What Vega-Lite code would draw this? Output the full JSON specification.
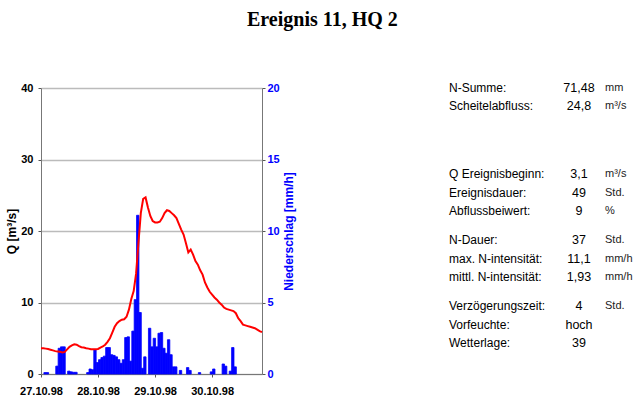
{
  "$schema": "https://vega.github.io/schema/vega-lite/v6.json",
  "background": "white",
  "padding": {"left": 5, "top": 10, "right": 5, "bottom": 5},
  "title": {"text": "Ereignis 11, HQ 2", "font": "Liberation Serif", "fontSize": 20, "fontWeight": "bold", "color": "black", "anchor": "middle", "offset": 52},
  "config": {
    "view": {"stroke": null},
    "font": "Liberation Sans",
    "axis": {"domainColor": "#777777", "tickColor": "#555555", "tickSize": 3, "labelFont": "Liberation Sans", "labelFontSize": 11, "labelFontWeight": "bold", "labelColor": "black", "titleFont": "Liberation Sans", "titleFontSize": 12, "titleFontWeight": "bold", "titleColor": "black"}
  },
  "datasets": {
    "abfluss": [
      {"t": "1998-10-27T00:00", "Q": 3.6}, {"t": "1998-10-27T01:00", "Q": 3.6}, {"t": "1998-10-27T02:00", "Q": 3.55}, {"t": "1998-10-27T03:00", "Q": 3.5},
      {"t": "1998-10-27T04:00", "Q": 3.4}, {"t": "1998-10-27T05:00", "Q": 3.3}, {"t": "1998-10-27T06:00", "Q": 3.2}, {"t": "1998-10-27T07:00", "Q": 3.15},
      {"t": "1998-10-27T08:00", "Q": 3.1}, {"t": "1998-10-27T09:00", "Q": 3.0}, {"t": "1998-10-27T10:00", "Q": 3.1}, {"t": "1998-10-27T11:00", "Q": 3.45},
      {"t": "1998-10-27T12:00", "Q": 3.8}, {"t": "1998-10-27T13:00", "Q": 4.0}, {"t": "1998-10-27T14:00", "Q": 4.15}, {"t": "1998-10-27T15:00", "Q": 4.1},
      {"t": "1998-10-27T16:00", "Q": 3.9}, {"t": "1998-10-27T17:00", "Q": 3.75}, {"t": "1998-10-27T18:00", "Q": 3.7}, {"t": "1998-10-27T19:00", "Q": 3.6},
      {"t": "1998-10-27T20:00", "Q": 3.55}, {"t": "1998-10-27T21:00", "Q": 3.45}, {"t": "1998-10-27T22:00", "Q": 3.45}, {"t": "1998-10-27T23:00", "Q": 3.45},
      {"t": "1998-10-28T00:00", "Q": 3.5}, {"t": "1998-10-28T01:00", "Q": 3.7}, {"t": "1998-10-28T02:00", "Q": 3.85}, {"t": "1998-10-28T03:00", "Q": 4.1},
      {"t": "1998-10-28T04:00", "Q": 4.5}, {"t": "1998-10-28T05:00", "Q": 5.0}, {"t": "1998-10-28T06:00", "Q": 5.8}, {"t": "1998-10-28T07:00", "Q": 6.6},
      {"t": "1998-10-28T08:00", "Q": 7.1}, {"t": "1998-10-28T09:00", "Q": 7.4}, {"t": "1998-10-28T10:00", "Q": 7.6}, {"t": "1998-10-28T11:00", "Q": 7.65},
      {"t": "1998-10-28T12:00", "Q": 8.0}, {"t": "1998-10-28T13:00", "Q": 9.0}, {"t": "1998-10-28T14:00", "Q": 10.5}, {"t": "1998-10-28T15:00", "Q": 11.6},
      {"t": "1998-10-28T16:00", "Q": 14.0}, {"t": "1998-10-28T17:00", "Q": 18.3}, {"t": "1998-10-28T18:00", "Q": 22.5}, {"t": "1998-10-28T19:00", "Q": 24.5},
      {"t": "1998-10-28T20:00", "Q": 24.7}, {"t": "1998-10-28T21:00", "Q": 23.3}, {"t": "1998-10-28T22:00", "Q": 22.1}, {"t": "1998-10-28T23:00", "Q": 21.4},
      {"t": "1998-10-29T00:00", "Q": 21.2}, {"t": "1998-10-29T01:00", "Q": 21.2}, {"t": "1998-10-29T02:00", "Q": 21.3}, {"t": "1998-10-29T03:00", "Q": 21.8},
      {"t": "1998-10-29T04:00", "Q": 22.5}, {"t": "1998-10-29T05:00", "Q": 22.9}, {"t": "1998-10-29T06:00", "Q": 22.8}, {"t": "1998-10-29T07:00", "Q": 22.5},
      {"t": "1998-10-29T08:00", "Q": 22.2}, {"t": "1998-10-29T09:00", "Q": 21.8}, {"t": "1998-10-29T10:00", "Q": 21.0}, {"t": "1998-10-29T11:00", "Q": 20.2},
      {"t": "1998-10-29T12:00", "Q": 19.5}, {"t": "1998-10-29T13:00", "Q": 18.3}, {"t": "1998-10-29T14:00", "Q": 17.0}, {"t": "1998-10-29T15:00", "Q": 17.4},
      {"t": "1998-10-29T16:00", "Q": 16.7}, {"t": "1998-10-29T17:00", "Q": 15.8}, {"t": "1998-10-29T18:00", "Q": 15.3}, {"t": "1998-10-29T19:00", "Q": 14.5},
      {"t": "1998-10-29T20:00", "Q": 13.9}, {"t": "1998-10-29T21:00", "Q": 12.8}, {"t": "1998-10-29T22:00", "Q": 12.1}, {"t": "1998-10-29T23:00", "Q": 11.5},
      {"t": "1998-10-30T00:00", "Q": 11.1}, {"t": "1998-10-30T01:00", "Q": 10.7}, {"t": "1998-10-30T02:00", "Q": 10.4}, {"t": "1998-10-30T03:00", "Q": 10.0},
      {"t": "1998-10-30T04:00", "Q": 9.7}, {"t": "1998-10-30T05:00", "Q": 9.3}, {"t": "1998-10-30T06:00", "Q": 9.1}, {"t": "1998-10-30T07:00", "Q": 9.0},
      {"t": "1998-10-30T08:00", "Q": 8.9}, {"t": "1998-10-30T09:00", "Q": 8.8}, {"t": "1998-10-30T10:00", "Q": 8.5}, {"t": "1998-10-30T11:00", "Q": 7.8},
      {"t": "1998-10-30T12:00", "Q": 7.4}, {"t": "1998-10-30T13:00", "Q": 6.9}, {"t": "1998-10-30T14:00", "Q": 6.8}, {"t": "1998-10-30T15:00", "Q": 6.7},
      {"t": "1998-10-30T16:00", "Q": 6.6}, {"t": "1998-10-30T17:00", "Q": 6.5}, {"t": "1998-10-30T18:00", "Q": 6.4}, {"t": "1998-10-30T19:00", "Q": 6.2},
      {"t": "1998-10-30T20:00", "Q": 6.0}, {"t": "1998-10-30T21:00", "Q": 5.85}
    ],
    "niederschlag": [
      {"t": "1998-10-27T01:00", "N": 0.1}, {"t": "1998-10-27T02:00", "N": 0.1}, {"t": "1998-10-27T06:00", "N": 0.55}, {"t": "1998-10-27T07:00", "N": 1.8},
      {"t": "1998-10-27T08:00", "N": 1.9}, {"t": "1998-10-27T09:00", "N": 1.9}, {"t": "1998-10-27T11:00", "N": 0.2}, {"t": "1998-10-27T12:00", "N": 0.15},
      {"t": "1998-10-27T13:00", "N": 0.12}, {"t": "1998-10-27T14:00", "N": 0.12}, {"t": "1998-10-27T19:00", "N": 0.1}, {"t": "1998-10-27T20:00", "N": 0.35},
      {"t": "1998-10-27T21:00", "N": 0.3}, {"t": "1998-10-27T22:00", "N": 1.7}, {"t": "1998-10-27T23:00", "N": 0.8},
      {"t": "1998-10-28T00:00", "N": 1.0}, {"t": "1998-10-28T01:00", "N": 1.15}, {"t": "1998-10-28T02:00", "N": 1.25}, {"t": "1998-10-28T03:00", "N": 1.85},
      {"t": "1998-10-28T04:00", "N": 1.85}, {"t": "1998-10-28T05:00", "N": 1.35}, {"t": "1998-10-28T06:00", "N": 1.3}, {"t": "1998-10-28T07:00", "N": 1.2},
      {"t": "1998-10-28T08:00", "N": 1.0}, {"t": "1998-10-28T09:00", "N": 0.75}, {"t": "1998-10-28T10:00", "N": 1.0}, {"t": "1998-10-28T11:00", "N": 2.55},
      {"t": "1998-10-28T12:00", "N": 2.6}, {"t": "1998-10-28T13:00", "N": 0.9}, {"t": "1998-10-28T14:00", "N": 3.0}, {"t": "1998-10-28T15:00", "N": 5.2},
      {"t": "1998-10-28T16:00", "N": 11.1}, {"t": "1998-10-28T17:00", "N": 4.3}, {"t": "1998-10-28T18:00", "N": 0.4}, {"t": "1998-10-28T19:00", "N": 1.2},
      {"t": "1998-10-28T21:00", "N": 3.2}, {"t": "1998-10-28T22:00", "N": 1.9}, {"t": "1998-10-28T23:00", "N": 2.5},
      {"t": "1998-10-29T00:00", "N": 1.9}, {"t": "1998-10-29T01:00", "N": 2.85}, {"t": "1998-10-29T02:00", "N": 2.9}, {"t": "1998-10-29T03:00", "N": 1.8},
      {"t": "1998-10-29T04:00", "N": 1.45}, {"t": "1998-10-29T05:00", "N": 2.4}, {"t": "1998-10-29T06:00", "N": 1.35}, {"t": "1998-10-29T07:00", "N": 0.5},
      {"t": "1998-10-29T08:00", "N": 0.5}, {"t": "1998-10-29T10:00", "N": 0.25}, {"t": "1998-10-29T13:00", "N": 0.45}, {"t": "1998-10-29T14:00", "N": 0.25},
      {"t": "1998-10-29T18:00", "N": 0.1}, {"t": "1998-10-29T23:00", "N": 0.15},
      {"t": "1998-10-30T00:00", "N": 0.35}, {"t": "1998-10-30T04:00", "N": 0.7}, {"t": "1998-10-30T05:00", "N": 0.55}, {"t": "1998-10-30T07:00", "N": 0.2},
      {"t": "1998-10-30T08:00", "N": 1.85}, {"t": "1998-10-30T09:00", "N": 0.5}
    ],
    "kennwerte": [
      {"nr": 0, "bezeichnung": "N-Summe:", "wert": "71,48", "einheit": "mm"},
      {"nr": 1, "bezeichnung": "Scheitelabfluss:", "wert": "24,8", "einheit": "m³/s"},
      {"nr": 4.7, "bezeichnung": "Q Ereignisbeginn:", "wert": "3,1", "einheit": "m³/s"},
      {"nr": 5.7, "bezeichnung": "Ereignisdauer:", "wert": "49", "einheit": "Std."},
      {"nr": 6.7, "bezeichnung": "Abflussbeiwert:", "wert": "9", "einheit": "%"},
      {"nr": 8.3, "bezeichnung": "N-Dauer:", "wert": "37", "einheit": "Std."},
      {"nr": 9.3, "bezeichnung": "max. N-intensität:", "wert": "11,1", "einheit": "mm/h"},
      {"nr": 10.3, "bezeichnung": "mittl. N-intensität:", "wert": "1,93", "einheit": "mm/h"},
      {"nr": 11.9, "bezeichnung": "Verzögerungszeit:", "wert": "4", "einheit": "Std."},
      {"nr": 12.9, "bezeichnung": "Vorfeuchte:", "wert": "hoch", "einheit": ""},
      {"nr": 13.9, "bezeichnung": "Wetterlage:", "wert": "39", "einheit": ""}
    ]
  },
  "spacing": 154,
  "hconcat": [
    {
      "width": 221,
      "height": 286,
      "layer": [
        {
          "data": {"name": "niederschlag"},
          "mark": {"type": "bar", "color": "#0000FF", "stroke": "#0000FF", "strokeWidth": 0.8, "binSpacing": 0},
          "encoding": {
            "x": {"field": "t", "type": "temporal", "timeUnit": "yearmonthdatehours", "title": null},
            "y": {"field": "N", "type": "quantitative", "scale": {"domain": [0, 20], "nice": false},
                  "axis": {"orient": "right", "values": [0, 5, 10, 15, 20], "grid": false, "labelColor": "#0000FF", "labelPadding": 2,
                           "title": "Niederschlag [mm/h]", "titleColor": "#0000FF", "titleAngle": 270, "titleBaseline": "top", "titlePadding": 4}}
          }
        },
        {
          "data": {"name": "abfluss"},
          "mark": {"type": "line", "color": "#FF0000", "strokeWidth": 2},
          "encoding": {
            "x": {"field": "t", "type": "temporal", "title": null,
                  "scale": {"domain": [{"year": 1998, "month": 10, "date": 27, "hours": 0}, {"year": 1998, "month": 10, "date": 30, "hours": 21}]},
                  "axis": {"format": "%d.%m.%y", "values": [{"year": 1998, "month": 10, "date": 27}, {"year": 1998, "month": 10, "date": 28}, {"year": 1998, "month": 10, "date": 29}, {"year": 1998, "month": 10, "date": 30}],
                           "grid": false, "labelFlush": false, "labelOverlap": false, "labelPadding": 8}},
            "y": {"field": "Q", "type": "quantitative", "scale": {"domain": [0, 40], "nice": false},
                  "axis": {"orient": "left", "values": [0, 10, 20, 30, 40], "grid": true, "gridColor": "#bbbbbb", "gridWidth": 1.3,
                           "labelPadding": 5, "title": "Q [m³/s]", "titlePadding": 2}}
          }
        }
      ],
      "resolve": {"scale": {"y": "independent"}}
    },
    {
      "width": 190,
      "height": 286,
      "data": {"name": "kennwerte"},
      "encoding": {
        "y": {"field": "nr", "type": "quantitative", "scale": {"domain": [0, 15.6], "reverse": true, "nice": false}, "axis": null}
      },
      "layer": [
        {
          "mark": {"type": "text", "align": "left", "baseline": "middle", "fontSize": 12, "font": "Liberation Sans", "color": "black"},
          "encoding": {"x": {"datum": 0, "type": "quantitative", "scale": {"domain": [0, 190], "nice": false}, "axis": null}, "text": {"field": "bezeichnung"}}
        },
        {
          "mark": {"type": "text", "align": "center", "baseline": "middle", "fontSize": 12.5, "font": "Liberation Sans", "color": "black"},
          "encoding": {"x": {"datum": 130, "type": "quantitative"}, "text": {"field": "wert"}}
        },
        {
          "mark": {"type": "text", "align": "left", "baseline": "middle", "fontSize": 11, "font": "Liberation Sans", "color": "#222222"},
          "encoding": {"x": {"datum": 156, "type": "quantitative"}, "text": {"field": "einheit"}}
        }
      ]
    }
  ]
}
